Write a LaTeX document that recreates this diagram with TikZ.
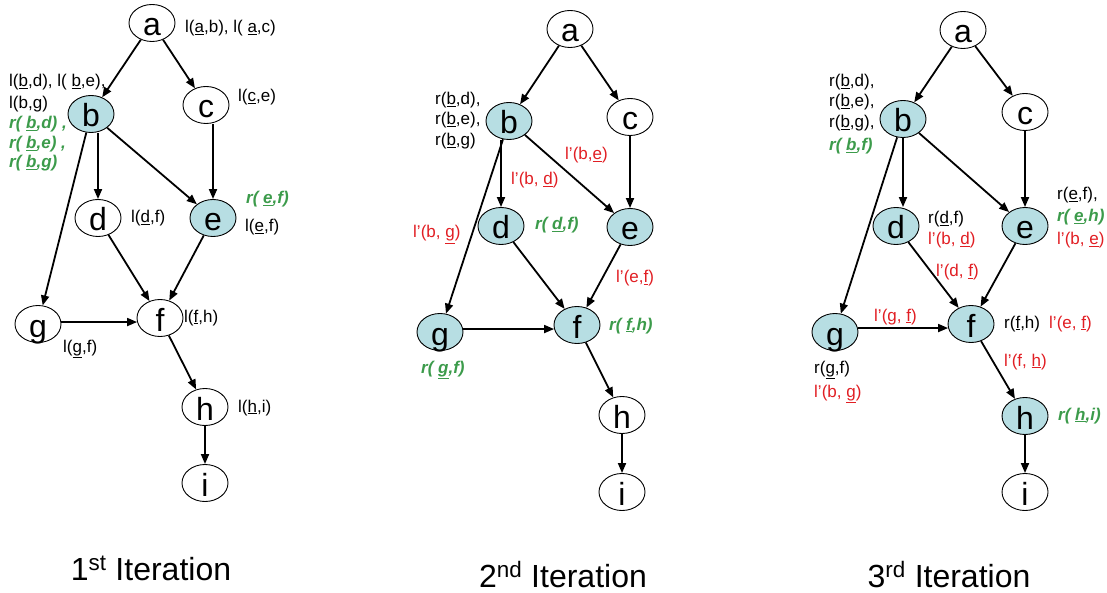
\documentclass[tikz,border=0pt]{standalone}
\usepackage{fontspec}
\setmainfont{Liberation Sans}
\usetikzlibrary{arrows.meta,shapes.geometric}
\definecolor{nodefill}{RGB}{183,222,227}
\definecolor{lgreen}{RGB}{60,155,75}
\definecolor{lred}{RGB}{225,30,35}
\newcommand\uu[1]{\underline{#1}}
\tikzset{
 vtx/.style={ellipse, draw, line width=0.9pt, minimum width=46pt, minimum height=37pt, inner sep=0pt, text height=26pt, text depth=0pt, font=\fontsize{32}{32}\selectfont},
 done/.style={vtx, fill=nodefill},
 edge/.style={line width=1.8pt, -{Triangle[length=10pt,width=8pt]}},
 lab/.style={anchor=base west, inner sep=0pt, font=\fontsize{17}{20}\selectfont},
 glab/.style={lab, text=lgreen, font=\fontsize{17}{20}\selectfont\bfseries\itshape},
 rlab/.style={lab, text=lred},
 captxt/.style={anchor=base, inner sep=0pt, font=\fontsize{32}{32}\selectfont},
}
\begin{document}
\begin{tikzpicture}[x=1pt,y=-1pt]
\useasboundingbox (0,0) rectangle (1107,593);
% ---------------- Graph 1 ----------------
\node[vtx]  (a1) at (152,23) {a};
\node[done] (b1) at (91,114) {b};
\node[vtx]  (c1) at (206,105) {c};
\node[vtx]  (d1) at (98,218) {d};
\node[done] (e1) at (213,218) {e};
\node[vtx]  (f1) at (160,318) {f};
\node[vtx]  (g1) at (38,324) {g};
\node[vtx]  (h1) at (205,407) {h};
\node[vtx]  (i1) at (205,483) {i};
\draw[edge] (a1) -- (b1);
\draw[edge] (a1) -- (c1);
\draw[edge] (b1.south -| d1) -- (d1);
\draw[edge] (b1) -- (e1);
\draw[edge] (b1) -- (g1);
\draw[edge] (c1.south -| e1) -- (e1);
\draw[edge] (d1) -- (f1);
\draw[edge] (e1) -- (f1);
\draw[edge] (g1.east |- f1.190) -- (f1.190);
\draw[edge] (f1) -- (h1);
\draw[edge] (h1) -- (i1);
\node[lab] (l1a) at (185,33) {l(\uu{a},b), l( \uu{a},c)};
\node[lab] (l1b1) at (9,87) {l(\uu{b},d), l( \uu{b},e),};
\node[lab] (l1b2) at (9,109) {l(b,g)};
\node[glab] (l1b3) at (9,129) {r( \uu{b},d) ,};
\node[glab] (l1b4) at (9,149) {r( \uu{b},e) ,};
\node[glab] (l1b5) at (9,168) {r( \uu{b},g)};
\node[lab] (l1c) at (238,102) {l(\uu{c},e)};
\node[glab] (l1e1) at (246,204) {r( \uu{e},f)};
\node[lab] (l1e2) at (245,232) {l(\uu{e},f)};
\node[lab] (l1d) at (131,223) {l(\uu{d},f)};
\node[lab] (l1f) at (184,322) {l(\uu{f},h)};
\node[lab] (l1g) at (63,352) {l(\uu{g},f)};
\node[lab] (l1h) at (238,412) {l(\uu{h},i)};
\node[captxt] (cap1) at (151,580) {1\textsuperscript{st} Iteration};
% ---------------- Graph 2 ----------------
\node[vtx]  (a2) at (570,29) {a};
\node[done] (b2) at (509,121) {b};
\node[vtx]  (c2) at (630,117) {c};
\node[done] (d2) at (501,226) {d};
\node[done] (e2) at (630,227) {e};
\node[done] (f2) at (577,325) {f};
\node[done] (g2) at (440,332) {g};
\node[vtx]  (h2) at (622,415) {h};
\node[vtx]  (i2) at (622,492) {i};
\draw[edge] (a2) -- (b2);
\draw[edge] (a2) -- (c2);
\draw[edge] (b2.south -| d2) -- (d2);
\draw[edge] (b2) -- (e2);
\draw[edge] (b2) -- (g2);
\draw[edge] (c2) -- (e2);
\draw[edge] (d2) -- (f2);
\draw[edge] (e2) -- (f2);
\draw[edge] (g2.east |- f2.190) -- (f2.190);
\draw[edge] (f2) -- (h2);
\draw[edge] (h2) -- (i2);
\node[lab] (l2b1) at (435,105) {r(\uu{b},d),};
\node[lab] (l2b2) at (435,125) {r(\uu{b},e),};
\node[lab] (l2b3) at (435,146) {r(\uu{b},g)};
\node[rlab] (l2be) at (565,160) {l’(b,\uu{e})};
\node[rlab] (l2bd) at (511,185) {l’(b, \uu{d})};
\node[glab] (l2d) at (535,230) {r( \uu{d},f)};
\node[rlab] (l2bg) at (413,238) {l’(b, \uu{g})};
\node[rlab] (l2ef) at (616,283) {l’(e,\uu{f})};
\node[glab] (l2f) at (609,330) {r( \uu{f},h)};
\node[glab] (l2g) at (421,373) {r( \uu{g},f)};
\node[captxt] (cap2) at (563,587) {2\textsuperscript{nd} Iteration};
% ---------------- Graph 3 ----------------
\node[vtx]  (a3) at (963,30) {a};
\node[done] (b3) at (903,119) {b};
\node[vtx]  (c3) at (1025,112) {c};
\node[done] (d3) at (896,226) {d};
\node[done] (e3) at (1025,226) {e};
\node[done] (f3) at (971,324) {f};
\node[done] (g3) at (835,332) {g};
\node[done] (h3) at (1025,416) {h};
\node[vtx]  (i3) at (1025,492) {i};
\draw[edge] (a3) -- (b3);
\draw[edge] (a3) -- (c3);
\draw[edge] (b3) -- (b3 |- d3.north);
\draw[edge] (b3) -- (e3);
\draw[edge] (b3) -- (g3);
\draw[edge] (c3) -- (e3);
\draw[edge] (d3) -- (f3);
\draw[edge] (e3) -- (f3);
\draw[edge] (g3.east |- f3.190) -- (f3.190);
\draw[edge] (f3) -- (h3);
\draw[edge] (h3) -- (i3);
\node[lab] (l3b1) at (829,87) {r(\uu{b},d),};
\node[lab] (l3b2) at (829,107) {r(\uu{b},e),};
\node[lab] (l3b3) at (829,128) {r(\uu{b},g),};
\node[glab] (l3b4) at (829,151) {r( \uu{b},f)};
\node[lab] (l3d1) at (928,224) {r(\uu{d},f)};
\node[rlab] (l3d2) at (928,245) {l’(b, \uu{d})};
\node[lab] (l3e1) at (1057,200) {r(\uu{e},f),};
\node[glab] (l3e2) at (1057,222) {r( \uu{e},h)};
\node[rlab] (l3e3) at (1057,245) {l’(b, \uu{e})};
\node[rlab] (l3df) at (936,277) {l’(d, \uu{f})};
\node[rlab] (l3gf) at (874,321) {l’(g, \uu{f})};
\node[lab] (l3f1) at (1004,328) {r(\uu{f},h)};
\node[rlab] (l3f2) at (1049,328) {l’(e, \uu{f})};
\node[rlab] (l3fh) at (1004,366) {l’(f, \uu{h})};
\node[lab] (l3g1) at (814,373) {r(\uu{g},f)};
\node[rlab] (l3g2) at (814,397) {l’(b, \uu{g})};
\node[glab] (l3h) at (1058,420) {r( \uu{h},i)};
\node[captxt] (cap3) at (949,587) {3\textsuperscript{rd} Iteration};
\end{tikzpicture}
\end{document}
